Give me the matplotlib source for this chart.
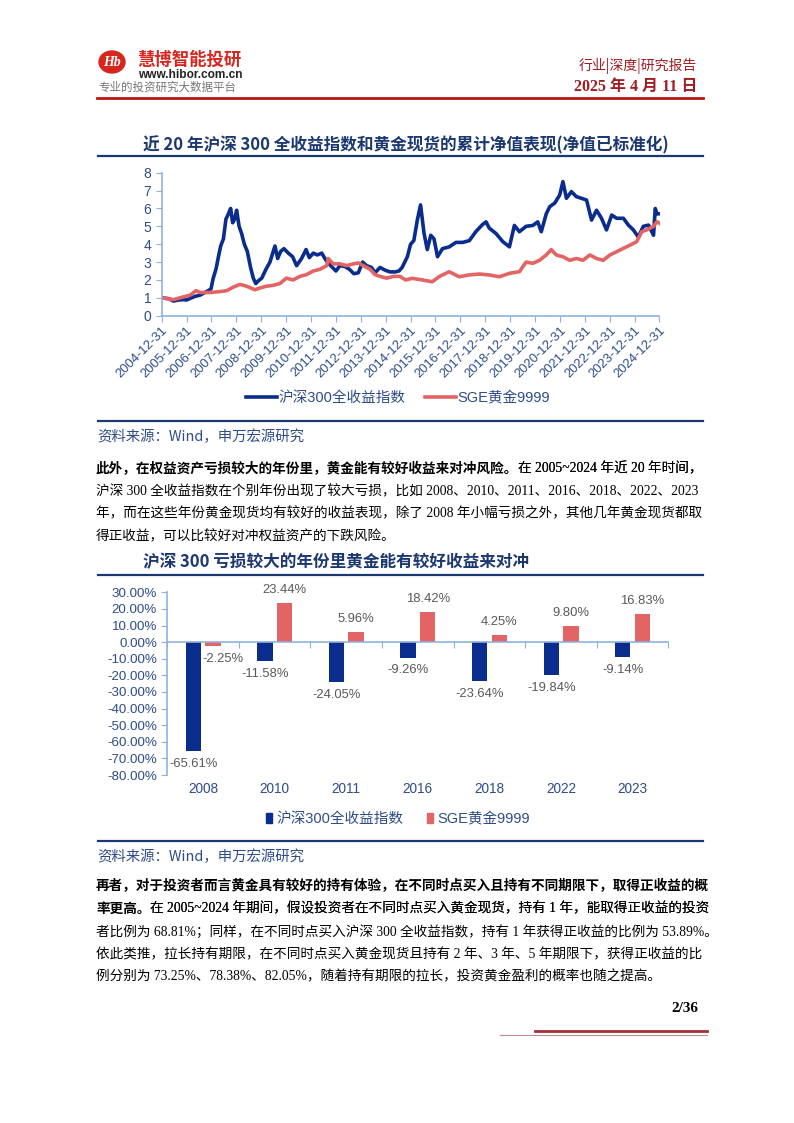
import numpy as np
import matplotlib.pyplot as plt
from matplotlib.lines import Line2D
from matplotlib.patches import Patch, Ellipse

plt.rcParams['font.family'] = ['Liberation Sans', 'Noto Sans CJK SC', 'DejaVu Sans']

W, H = 794, 1123

# ---- chart 1: cumulative net value ----
hs_t = [2005.00, 2005.29, 2005.47, 2005.67, 2005.87, 2006.00, 2006.20, 2006.34, 2006.54, 2006.74,
        2006.87, 2006.98, 2007.07, 2007.18, 2007.28, 2007.37, 2007.48, 2007.58, 2007.68, 2007.77,
        2007.85, 2007.93, 2008.01, 2008.11, 2008.21, 2008.32, 2008.44, 2008.57, 2008.68, 2008.78,
        2008.88, 2009.02, 2009.19, 2009.35, 2009.46, 2009.55, 2009.66, 2009.78, 2009.91, 2010.09,
        2010.26, 2010.42, 2010.62, 2010.80, 2010.93, 2011.09, 2011.25, 2011.43, 2011.60, 2011.79,
        2012.00, 2012.16, 2012.36, 2012.54, 2012.72, 2012.90, 2013.07, 2013.23, 2013.43, 2013.57,
        2013.77, 2013.97, 2014.17, 2014.37, 2014.53, 2014.66, 2014.87, 2015.00, 2015.13, 2015.27,
        2015.40, 2015.54, 2015.67, 2015.81, 2015.94, 2016.08, 2016.28, 2016.55, 2016.82, 2017.09,
        2017.36, 2017.62, 2017.89, 2018.03, 2018.16, 2018.43, 2018.70, 2018.97, 2019.17, 2019.37,
        2019.64, 2019.91, 2020.11, 2020.25, 2020.45, 2020.59, 2020.79, 2020.99, 2021.12, 2021.26,
        2021.46, 2021.66, 2021.86, 2022.07, 2022.27, 2022.47, 2022.67, 2022.87, 2023.08, 2023.28,
        2023.55, 2023.75, 2023.95, 2024.15, 2024.35, 2024.56, 2024.76, 2024.83, 2024.90, 2025.00]
hs_v = [1.00, 0.95, 0.82, 0.88, 0.90, 0.88, 1.00, 1.08, 1.15, 1.30,
        1.40, 1.50, 2.10, 2.60, 3.30, 3.90, 4.30, 5.40, 5.70, 6.00,
        5.20, 5.40, 5.90, 5.00, 4.60, 4.00, 3.60, 2.70, 2.10, 1.80,
        1.95, 2.10, 2.60, 3.00, 3.50, 3.90, 3.20, 3.60, 3.75, 3.50,
        3.30, 2.80, 3.20, 3.70, 3.25, 3.50, 3.40, 3.50, 3.10, 2.80,
        2.50, 2.80, 2.75, 2.60, 2.35, 2.40, 3.00, 2.80, 2.70, 2.40,
        2.70, 2.55, 2.45, 2.45, 2.50, 2.70, 3.30, 4.00, 4.20, 5.35,
        6.20, 4.60, 3.70, 4.50, 4.30, 3.30, 3.75, 3.85, 4.10, 4.10,
        4.20, 4.70, 5.10, 5.25, 4.90, 4.60, 4.15, 3.85, 5.05, 4.70,
        5.00, 5.05, 5.25, 4.70, 5.70, 6.10, 6.30, 6.75, 7.50, 6.57,
        6.94, 6.66, 6.57, 6.47, 5.35, 5.90, 5.45, 4.80, 5.63, 5.45,
        5.45, 5.07, 4.80, 4.40, 5.00, 5.07, 4.50, 6.00, 5.70, 5.70]

au_t = [2005.00, 2005.47, 2005.87, 2006.14, 2006.38, 2006.54, 2006.98, 2007.34, 2007.61, 2007.88,
        2008.14, 2008.41, 2008.75, 2008.94, 2009.21, 2009.48, 2009.75, 2010.01, 2010.28, 2010.55,
        2010.82, 2011.09, 2011.36, 2011.63, 2011.69, 2011.89, 2012.16, 2012.43, 2012.70, 2012.90,
        2013.10, 2013.37, 2013.57, 2013.77, 2014.04, 2014.31, 2014.57, 2014.80, 2015.07, 2015.47,
        2015.87, 2016.14, 2016.55, 2016.95, 2017.35, 2017.76, 2018.16, 2018.57, 2018.97, 2019.37,
        2019.64, 2019.91, 2020.18, 2020.45, 2020.65, 2020.85, 2021.12, 2021.39, 2021.66, 2021.93,
        2022.20, 2022.47, 2022.74, 2023.01, 2023.28, 2023.55, 2023.82, 2024.08, 2024.29, 2024.49,
        2024.76, 2024.90, 2025.00]
au_v = [1.00, 0.90, 1.05, 1.15, 1.40, 1.30, 1.30, 1.35, 1.40, 1.60,
        1.75, 1.65, 1.45, 1.55, 1.65, 1.70, 1.80, 2.10, 2.00, 2.20,
        2.30, 2.50, 2.60, 2.80, 3.20, 2.90, 2.90, 2.80, 2.90, 2.95,
        2.80, 2.60, 2.30, 2.20, 2.10, 2.20, 2.20, 2.00, 2.09, 2.00,
        1.90, 2.18, 2.46, 2.18, 2.28, 2.33, 2.28, 2.18, 2.37, 2.46,
        3.00, 2.93, 3.10, 3.40, 3.70, 3.40, 3.30, 3.10, 3.20, 3.10,
        3.40, 3.20, 3.10, 3.40, 3.58, 3.77, 3.95, 4.14, 4.70, 4.80,
        5.00, 5.26, 5.17]

date_ticks = list(range(2005, 2026))
date_labels = ['%d-12-31' % (y - 1) for y in date_ticks]

# ---- chart 2: yearly returns in loss years ----
years = ['2008', '2010', '2011', '2016', '2018', '2022', '2023']
hs300 = [-65.61, -11.58, -24.05, -9.26, -23.64, -19.84, -9.14]
gold = [-2.25, 23.44, 5.96, 18.42, 4.25, 9.80, 16.83]

NAVY = '#0A2C8C'
RED = '#E36464'
AXC = '#8FB1DE'
TXTB = '#2E4C8A'
TITLE = '#1C3870'
DARKRED = '#A01C22'


def fx(x):
    return x / W


def fy(y):
    return 1 - y / H


def box(l, t, r, b):
    return [l / W, 1 - b / H, (r - l) / W, (b - t) / H]


def hline(y, x1, x2, color, lw):
    fig.add_artist(Line2D([fx(x1), fx(x2)], [fy(y), fy(y)], color=color, lw=lw,
                          transform=fig.transFigure))


fig = plt.figure(figsize=(W / 100, H / 100), dpi=100)

# ---- page header ----
fig.add_artist(Ellipse((fx(112), fy(62)), 26 / W, 22 / H, transform=fig.transFigure,
                       color='#D7261E'))
fig.text(fx(112), fy(62), 'Hb', color='white', fontsize=10, weight='bold', style='italic',
         ha='center', va='center', family=['Liberation Serif'])
fig.text(fx(137), fy(60), '慧博智能投研', color='#D7261E', fontsize=12.5, weight='bold',
         va='center', family=['Noto Sans CJK SC'])
fig.text(fx(138), fy(75), 'www.hibor.com.cn', color='#222222', fontsize=8.6, va='center',
         weight='bold')
fig.text(fx(98), fy(87), '专业的投资研究大数据平台', color='#777777', fontsize=8.3, va='center',
         style='italic', family=['Noto Sans CJK SC'])
fig.text(fx(697), fy(66), '行业|深度|研究报告', color=DARKRED, fontsize=10, ha='right',
         va='center', family=['Noto Sans CJK SC'])
fig.text(fx(697), fy(87), '2025 年 4 月 11 日', color=DARKRED, fontsize=11.5, ha='right',
         va='center', weight='bold', family=['Liberation Serif', 'Noto Sans CJK SC'])
hline(98, 97, 703, '#C0150F', 2.0)

# ---- chart 1 ----
fig.text(fx(143), fy(145), '近 20 年沪深 300 全收益指数和黄金现货的累计净值表现(净值已标准化)',
         color=TITLE, fontsize=12, weight='bold', va='center', family=['Noto Sans CJK SC'])
hline(156, 98, 703, TITLE, 1.6)

ax1 = fig.add_axes(box(161.7, 172.7, 659.5, 315.7))
l1, = ax1.plot(hs_t, hs_v, color=NAVY, lw=2.6, label='沪深300全收益指数')
l2, = ax1.plot(au_t, au_v, color=RED, lw=2.6, label='SGE黄金9999')
ax1.set_xlim(2005, 2025)
ax1.set_ylim(0, 8)
ax1.set_yticks(range(0, 9))
ax1.set_xticks(date_ticks)
ax1.set_xticklabels(date_labels, rotation=45, ha='right', va='top', rotation_mode='anchor')
for s in ['top', 'right']:
    ax1.spines[s].set_visible(False)
for s in ['left', 'bottom']:
    ax1.spines[s].set_color(AXC)
    ax1.spines[s].set_linewidth(1.2)
ax1.tick_params(direction='out', length=4, color=AXC, labelcolor=TXTB, labelsize=10)
ax1.tick_params(axis='x', labelsize=9.4, pad=2)
ax1.legend(handles=[l1, l2], loc='center', bbox_to_anchor=(fx(398), fy(398)),
           bbox_transform=fig.transFigure, ncol=2, frameon=False, fontsize=10.5,
           handlelength=2.1, handletextpad=0.1, columnspacing=1.4, labelcolor=TXTB)
hline(421, 98, 703, TITLE, 1.6)
fig.text(fx(97), fy(437), '资料来源：Wind，申万宏源研究', color=TXTB, fontsize=10.4,
         va='center', family=['Noto Sans CJK SC'])

# ---- body text ----
BODY = ['Liberation Serif', 'Noto Sans CJK SC']
BOLD = ['Noto Sans CJK SC']
FS = 9.8


def para_line(y, bold, rest, x=96):
    t = None
    if bold:
        t = fig.text(fx(x), fy(y), bold, fontsize=FS, weight='bold', va='center',
                     family=BOLD, color='black')
    if rest:
        if t is None:
            fig.text(fx(x), fy(y), rest, fontsize=FS, va='center', family=BODY, color='black')
        else:
            ann = plt.annotate(rest, xy=(1, 0.5), xycoords=t, va='center', ha='left',
                               fontsize=FS, family=BODY, color='black',
                               annotation_clip=False)
            fig.add_artist(ann)


para_line(469, '此外，在权益资产亏损较大的年份里，黄金能有较好收益来对冲风险。', '在 2005~2024 年近 20 年时间，')
para_line(492, '', '沪深 300 全收益指数在个别年份出现了较大亏损，比如 2008、2010、2011、2016、2018、2022、2023')
para_line(514, '', '年，而在这些年份黄金现货均有较好的收益表现，除了 2008 年小幅亏损之外，其他几年黄金现货都取')
para_line(537, '', '得正收益，可以比较好对冲权益资产的下跌风险。')

# ---- chart 2 ----
fig.text(fx(143), fy(562), '沪深 300 亏损较大的年份里黄金能有较好收益来对冲',
         color=TITLE, fontsize=12, weight='bold', va='center', family=['Noto Sans CJK SC'])
hline(575, 98, 703, TITLE, 1.6)

ax2 = fig.add_axes(box(167.3, 592.3, 668.4, 775))
x = np.arange(len(years))
bw = 0.215
ax2.bar(x - 0.137, hs300, bw, color=NAVY, label='沪深300全收益指数')
ax2.bar(x + 0.137, gold, bw, color=RED, label='SGE黄金9999')
ax2.set_xlim(-0.5, len(years) - 0.5)
ax2.set_ylim(-80, 30)
ax2.set_yticks(np.arange(-80, 31, 10))
ax2.set_yticklabels(['%.2f%%' % v for v in np.arange(-80, 31, 10)])
ax2.set_xticks(np.arange(-0.5, len(years), 1))
ax2.set_xticklabels([])
ax2.spines['bottom'].set_position(('data', 0))
for s in ['top', 'right']:
    ax2.spines[s].set_visible(False)
for s in ['left', 'bottom']:
    ax2.spines[s].set_color(AXC)
    ax2.spines[s].set_linewidth(1.2)
ax2.tick_params(direction='out', length=4, color=AXC, labelcolor=TXTB, labelsize=9.6)
for xi, name in zip(x, years):
    ax2.text(xi, -0.077, name, transform=ax2.get_xaxis_transform(), ha='center', va='center',
             fontsize=9.8, color=TXTB)
for xs, vals in [(x - 0.137, hs300), (x + 0.137, gold)]:
    for xi, v in zip(xs, vals):
        dx = 7 if (v < 0 and vals is gold) else 0
        ax2.annotate('%.2f%%' % v, xy=(xi, v), xytext=(dx, 5 if v > 0 else -5),
                     textcoords='offset points', ha='center',
                     va='bottom' if v > 0 else 'top', fontsize=9.4, color='#595959')
ax2.legend(handles=[Patch(color=NAVY, label='沪深300全收益指数'), Patch(color=RED, label='SGE黄金9999')],
           loc='center', bbox_to_anchor=(fx(398), fy(819)), bbox_transform=fig.transFigure,
           ncol=2, frameon=False, fontsize=10.5, handlelength=0.45, handleheight=0.75,
           handletextpad=0.3, columnspacing=1.6, labelcolor=TXTB)
hline(841, 98, 703, TITLE, 1.6)
fig.text(fx(97), fy(857), '资料来源：Wind，申万宏源研究', color=TXTB, fontsize=10.4,
         va='center', family=['Noto Sans CJK SC'])

para_line(886, '再者，对于投资者而言黄金具有较好的持有体验，在不同时点买入且持有不同期限下，取得正收益的概', '')
para_line(909, '率更高。', '在 2005~2024 年期间，假设投资者在不同时点买入黄金现货，持有 1 年，能取得正收益的投资')
para_line(932, '', '者比例为 68.81%；同样，在不同时点买入沪深 300 全收益指数，持有 1 年获得正收益的比例为 53.89%。')
para_line(955, '', '依此类推，拉长持有期限，在不同时点买入黄金现货且持有 2 年、3 年、5 年期限下，获得正收益的比')
para_line(977, '', '例分别为 73.25%、78.38%、82.05%，随着持有期限的拉长，投资黄金盈利的概率也随之提高。')

# ---- footer ----
fig.text(fx(698), fy(1008), '2/36', fontsize=11, weight='bold', ha='right', va='center',
         family=['Liberation Serif'], color='black')
hline(1031, 535, 707, '#A5303C', 2.0)
hline(1035, 500, 707, '#C98A92', 0.8)

fig.savefig('out.png', dpi=100)
